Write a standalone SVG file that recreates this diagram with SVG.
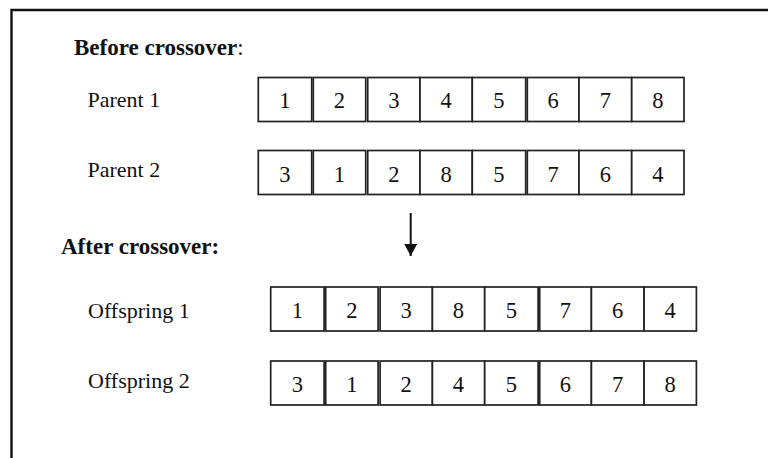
<svg xmlns="http://www.w3.org/2000/svg" width="768" height="458" viewBox="0 0 768 458">
  <style>
    .frame { fill: none; stroke: #111; stroke-width: 2.4; }
    .cell { fill: #fff; stroke: #222; stroke-width: 1.7; }
    .num { font-family: "Liberation Serif", "Times New Roman", serif; font-size: 22.5px; fill: #111; text-anchor: middle; }
    .lbl { font-family: "Liberation Serif", "Times New Roman", serif; font-size: 22px; fill: #111; }
    .head { font-family: "Liberation Serif", "Times New Roman", serif; font-size: 23px; font-weight: bold; fill: #111; }
    .conn { stroke: #111; stroke-width: 2; fill: none; }
  </style>
  <defs>
    <marker id="arrowhead" viewBox="0 0 12 13" refX="12" refY="6.5" markerWidth="12" markerHeight="13" markerUnits="userSpaceOnUse" orient="auto">
      <path d="M0,0 L12,6.5 L0,13 Z" fill="#111"/>
    </marker>
    <!-- one chromosome row: eight gene cells, with small gaps after cells 1, 2 and 5 -->
    <g id="cells">
      <rect class="cell" x="0" y="0" width="53.4" height="44"/>
      <rect class="cell" x="55" y="0" width="52.4" height="44"/>
      <rect class="cell" x="109.4" y="0" width="52.3" height="44"/>
      <rect class="cell" x="161.7" y="0" width="52.3" height="44"/>
      <rect class="cell" x="214" y="0" width="53.4" height="44"/>
      <rect class="cell" x="269" y="0" width="51.7" height="44"/>
      <rect class="cell" x="320.7" y="0" width="52.7" height="44"/>
      <rect class="cell" x="373.4" y="0" width="52.3" height="44"/>
    </g>
  </defs>

  <!-- outer frame: top and left edges only -->
  <path class="frame" d="M11.5,460 L11.5,10 L770,10"/>

  <text class="head" x="74" y="55">Before crossover<tspan font-weight="normal">:</tspan></text>
  <text class="head" x="61" y="254">After crossover:</text>

  <g id="parent1">
    <text class="lbl" x="87.5" y="107">Parent 1</text>
    <g transform="translate(258.3,77.5)">
      <use href="#cells"/>
      <text class="num" x="26.7" y="30.5">1</text>
      <text class="num" x="81.2" y="30.5">2</text>
      <text class="num" x="135.5" y="30.5">3</text>
      <text class="num" x="187.8" y="30.5">4</text>
      <text class="num" x="240.7" y="30.5">5</text>
      <text class="num" x="294.8" y="30.5">6</text>
      <text class="num" x="347" y="30.5">7</text>
      <text class="num" x="399.5" y="30.5">8</text>
    </g>
  </g>

  <g id="parent2">
    <text class="lbl" x="87.5" y="177">Parent 2</text>
    <g transform="translate(258.3,150.5)">
      <use href="#cells"/>
      <text class="num" x="26.7" y="31">3</text>
      <text class="num" x="81.2" y="31">1</text>
      <text class="num" x="135.5" y="31">2</text>
      <text class="num" x="187.8" y="31">8</text>
      <text class="num" x="240.7" y="31">5</text>
      <text class="num" x="294.8" y="31">7</text>
      <text class="num" x="347" y="31">6</text>
      <text class="num" x="399.5" y="31">4</text>
    </g>
  </g>

  <g id="offspring1">
    <text class="lbl" x="88" y="318">Offspring 1</text>
    <g transform="translate(270.7,287)">
      <use href="#cells"/>
      <text class="num" x="26.7" y="31">1</text>
      <text class="num" x="81.2" y="31">2</text>
      <text class="num" x="135.5" y="31">3</text>
      <text class="num" x="187.8" y="31">8</text>
      <text class="num" x="240.7" y="31">5</text>
      <text class="num" x="294.8" y="31">7</text>
      <text class="num" x="347" y="31">6</text>
      <text class="num" x="399.5" y="31">4</text>
    </g>
  </g>

  <g id="offspring2">
    <text class="lbl" x="88" y="388">Offspring 2</text>
    <g transform="translate(270.7,361)">
      <use href="#cells"/>
      <text class="num" x="26.7" y="31">3</text>
      <text class="num" x="81.2" y="31">1</text>
      <text class="num" x="135.5" y="31">2</text>
      <text class="num" x="187.8" y="31">4</text>
      <text class="num" x="240.7" y="31">5</text>
      <text class="num" x="294.8" y="31">6</text>
      <text class="num" x="347" y="31">7</text>
      <text class="num" x="399.5" y="31">8</text>
    </g>
  </g>

  <g id="connectors">
    <line class="conn" x1="410.7" y1="213" x2="410.7" y2="256" marker-end="url(#arrowhead)"/>
  </g>
</svg>
